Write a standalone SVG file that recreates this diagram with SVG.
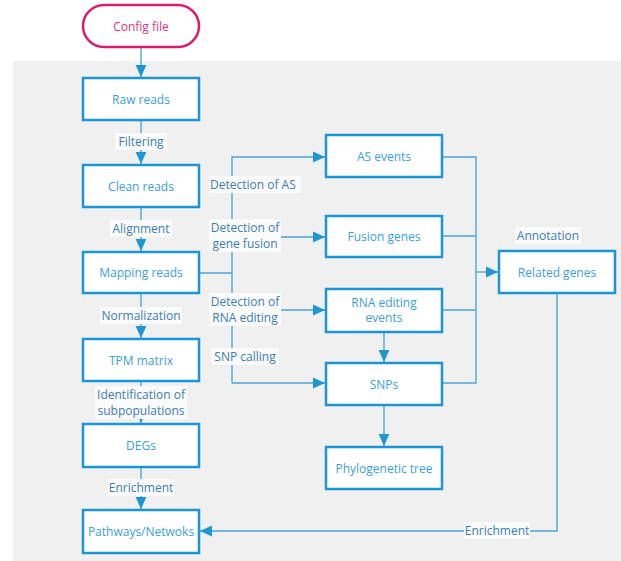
<svg xmlns="http://www.w3.org/2000/svg" width="621" height="561" viewBox="0 0 621 561">
<defs>
<marker id="arr" markerUnits="userSpaceOnUse" markerWidth="12" markerHeight="12" viewBox="0 0 10 10" refX="10" refY="5" orient="auto">
<path d="M0,0.5 L10,5 L0,9.5 Z" fill="#1f96d2"/>
</marker>
<style>
.box{fill:#fff;stroke:#1b95d3;stroke-width:2.5}
.pill{fill:#fff;stroke:#d81b6e;stroke-width:2.5}
.bt{font-family:"Open Sans","Noto Sans",sans-serif;font-size:12px;fill:#3aa0d8;text-anchor:middle}
.pt{font-family:"Open Sans","Noto Sans",sans-serif;font-size:12px;fill:#d8367f;text-anchor:middle}
.lt{font-family:"Open Sans","Noto Sans",sans-serif;font-size:12px;fill:#3a7fb3;text-anchor:middle}
.lbg{fill:#fafafa}
.ln{fill:none;stroke:#4ba6d6;stroke-width:1.4}
</style>
</defs>
<rect x="13" y="61" width="608" height="500" fill="#f0f0f0"/>

<g id="connectors">
<path class="ln" d="M141,47 V77" marker-end="url(#arr)"/>
<path class="ln" d="M141,120 V164" marker-end="url(#arr)"/>
<path class="ln" d="M141,207 V251" marker-end="url(#arr)"/>
<path class="ln" d="M141,293 V338" marker-end="url(#arr)"/>
<path class="ln" d="M141,381 V423" marker-end="url(#arr)"/>
<path class="ln" d="M141,467 V509" marker-end="url(#arr)"/>
<path class="ln" d="M199,273 H232"/>
<path class="ln" d="M232,383 V157 H325" marker-end="url(#arr)"/>
<path class="ln" d="M232,237 H325" marker-end="url(#arr)"/>
<path class="ln" d="M232,310 H325" marker-end="url(#arr)"/>
<path class="ln" d="M232,383 H325" marker-end="url(#arr)"/>
<path class="ln" d="M442,157 H476 V383 H442"/>
<path class="ln" d="M442,236 H476"/>
<path class="ln" d="M442,310 H476"/>
<path class="ln" d="M476,272 H498" marker-end="url(#arr)"/>
<path class="ln" d="M384,332 V362" marker-end="url(#arr)"/>
<path class="ln" d="M384,405 V446" marker-end="url(#arr)"/>
<path class="ln" d="M557,293 V531 H200" marker-end="url(#arr)"/>
</g>

<g id="edge-labels">
<rect class="lbg" x="115" y="133" width="52" height="17"/>
<text class="lt" x="141" y="146">Filtering</text>
<rect class="lbg" x="110" y="220" width="62" height="17"/>
<text class="lt" x="141" y="233">Alignment</text>
<rect class="lbg" x="100" y="307" width="82" height="17"/>
<text class="lt" x="141" y="320">Normalization</text>
<rect class="lbg" x="95" y="386" width="92" height="33"/>
<text class="lt" x="141" y="399">Identification of</text>
<text class="lt" x="141" y="415">subpopulations</text>
<rect class="lbg" x="108" y="479" width="66" height="17"/>
<text class="lt" x="141" y="492">Enrichment</text>
<rect class="lbg" x="209" y="176" width="92" height="17"/>
<text class="lt" x="210" y="189" style="text-anchor:start">Detection of AS</text>
<rect class="lbg" x="209" y="219" width="72" height="33"/>
<text class="lt" x="245" y="232">Detection of</text>
<text class="lt" x="245" y="248">gene fusion</text>
<rect class="lbg" x="209" y="293" width="72" height="33"/>
<text class="lt" x="245" y="306">Detection of</text>
<text class="lt" x="245" y="322">RNA editing</text>
<rect class="lbg" x="211" y="348" width="68" height="17"/>
<text class="lt" x="245" y="361">SNP calling</text>
<rect class="lbg" x="515" y="227" width="66" height="17"/>
<text class="lt" x="548" y="240">Annotation</text>
<rect class="lbg" x="464" y="522" width="66" height="17"/>
<text class="lt" x="497" y="535">Enrichment</text>
</g>

<g id="config-file">
<rect class="pill" x="83" y="5" width="116" height="42" rx="21"/>
<text class="pt" x="141" y="30.5">Config file</text>
</g>
<g id="raw-reads">
<rect class="box" x="83" y="78" width="116" height="42"/>
<text class="bt" x="141" y="103.5">Raw reads</text>
</g>
<g id="clean-reads">
<rect class="box" x="83" y="165" width="116" height="42"/>
<text class="bt" x="141" y="190.5">Clean reads</text>
</g>
<g id="mapping-reads">
<rect class="box" x="83" y="252" width="116" height="41"/>
<text class="bt" x="141" y="277">Mapping reads</text>
</g>
<g id="tpm-matrix">
<rect class="box" x="83" y="339" width="116" height="42"/>
<text class="bt" x="141" y="364.5">TPM matrix</text>
</g>
<g id="degs">
<rect class="box" x="83" y="424" width="116" height="43"/>
<text class="bt" x="141" y="450">DEGs</text>
</g>
<g id="pathways">
<rect class="box" x="83" y="510" width="116" height="43"/>
<text class="bt" x="141" y="536">Pathways/Netwoks</text>
</g>
<g id="as-events">
<rect class="box" x="326" y="135" width="116" height="42"/>
<text class="bt" x="384" y="160.5">AS events</text>
</g>
<g id="fusion-genes">
<rect class="box" x="326" y="216" width="116" height="41"/>
<text class="bt" x="384" y="241">Fusion genes</text>
</g>
<g id="rna-editing">
<rect class="box" x="326" y="289" width="116" height="43"/>
<text class="bt" x="384" y="306.5">RNA editing</text>
<text class="bt" x="384" y="322">events</text>
</g>
<g id="snps">
<rect class="box" x="326" y="363" width="116" height="42"/>
<text class="bt" x="384" y="388.5">SNPs</text>
</g>
<g id="phylogenetic-tree">
<rect class="box" x="326" y="447" width="116" height="42"/>
<text class="bt" x="384" y="472.5">Phylogenetic tree</text>
</g>
<g id="related-genes">
<rect class="box" x="499" y="251" width="116" height="42"/>
<text class="bt" x="557" y="276.5">Related genes</text>
</g>
</svg>
